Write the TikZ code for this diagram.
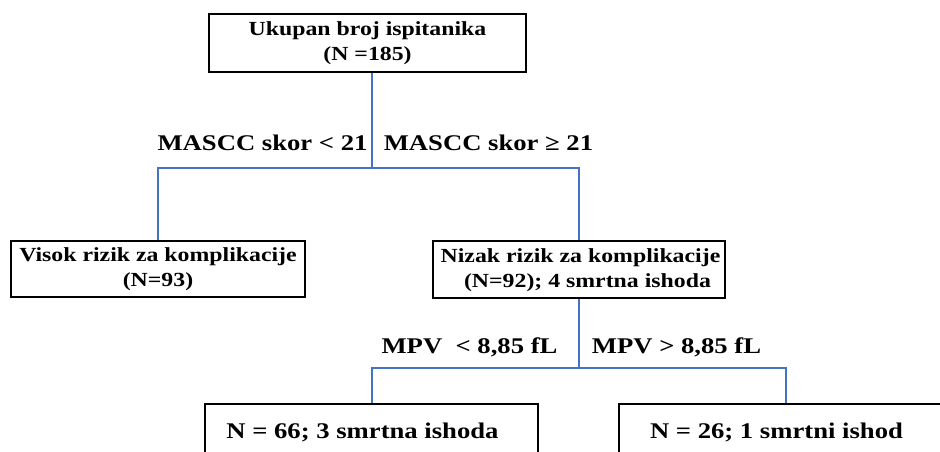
\documentclass[tikz,border=0pt]{standalone}
\usepackage{fontspec}
\setmainfont[FakeStretch=1.19]{Liberation Serif}
\definecolor{lineblue}{HTML}{4472C4}
\begin{document}
\begin{tikzpicture}[x=1bp,y=-1bp,
  box/.style={draw=black,line width=2.6bp,rectangle,inner sep=0pt,align=center,
    font=\fontsize{20bp}{25bp}\selectfont\bfseries},
  txt/.style={inner sep=0pt,font=\fontsize{20bp}{25bp}\selectfont\bfseries},
  bigtxt/.style={inner sep=0pt,font=\fontsize{22.4bp}{27bp}\selectfont\bfseries},
  conn/.style={draw=lineblue,line width=2bp}]
\useasboundingbox (0,0) rectangle (940,452);
\fill[white] (0,0) rectangle (940,452);
% boxes
\node[box,minimum width=317bp,minimum height=58bp] (top) at (367.5,43) {Ukupan broj ispitanika\\(N =185)};
\node[box,minimum width=294bp,minimum height=56bp] (left) at (158,269) {Visok rizik za komplikacije\\(N=93)};
\node[box,minimum width=292bp,minimum height=57bp] (right) at (579,269.5) {};
\node[txt] (rt1) at (580.5,258) {Nizak rizik za komplikacije};
\node[txt] (rt2) at (587.5,283) {(N=92); 4 smrtna ishoda};
\node[box,minimum width=333bp,minimum height=56bp] (bl) at (371.5,432) {};
\node[bigtxt] (blt) at (362.5,432) {N = 66; 3 smrtna ishoda};
\node[box,minimum width=334bp,minimum height=56bp] (br) at (786,432) {};
\node[bigtxt] (brt) at (776.5,432) {N = 26; 1 smrtni ishod};
% junctions
\coordinate (j1) at (372,168);
\coordinate (j2) at (579,368);
% connectors
\draw[conn] (j1 |- top.south) -- (j1);
\draw[conn] (left.north) |- (j1) -| (right.north);
\draw[conn] (right.south) -- (j2);
\draw[conn] (bl.north) |- (j2) -| (br.north);
% labels
\node[bigtxt] (l1) at (262.5,143) {MASCC skor < 21};
\node[bigtxt] (l2) at (488.5,143) {MASCC skor ≥ 21};
\node[bigtxt] (l3) at (469.5,347) {MPV\ \ < 8,85 fL};
\node[bigtxt] (l4) at (676.5,347) {MPV > 8,85 fL};
\end{tikzpicture}
\end{document}
